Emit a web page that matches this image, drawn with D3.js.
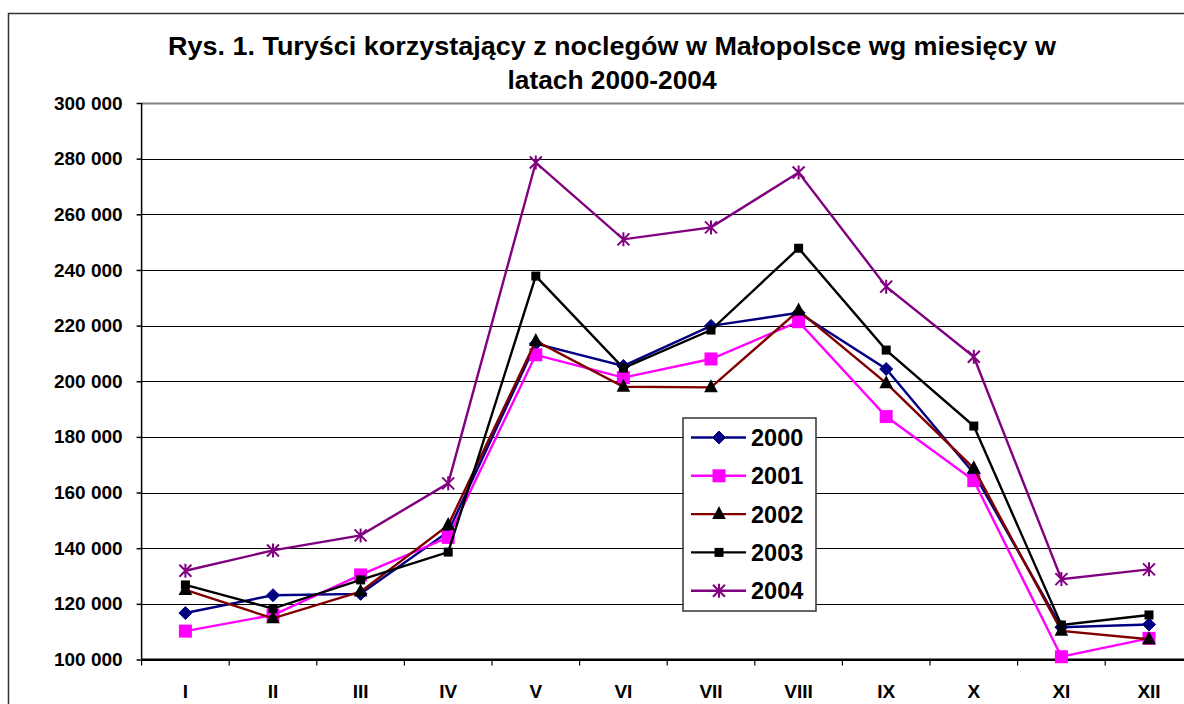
<!DOCTYPE html>
<html>
<head>
<meta charset="utf-8">
<script src="https://cdn.jsdelivr.net/npm/d3@7"></script>
<style>
  body { margin: 0; background: #fff; }
  text { font-family: "Liberation Sans", Arial, sans-serif; font-weight: bold; fill: #000; }
</style>
</head>
<body>
<script>
// Chart data
const months = ['I', 'II', 'III', 'IV', 'V', 'VI', 'VII', 'VIII', 'IX', 'X', 'XI', 'XII'];
const years = ['2000', '2001', '2002', '2003', '2004'];
const v2000 = [116700, 123100, 123600, 145900, 213500, 205500, 219900, 224600, 204400, 166900, 111600, 112600];
const v2001 = [110200, 116000, 130400, 143900, 209500, 201300, 208000, 221400, 187300, 164300, 101000, 107600];
const v2002 = [125000, 114800, 124400, 148300, 214500, 198000, 197800, 225400, 199300, 168700, 110300, 107300];
const v2003 = [126800, 118300, 128600, 138600, 237800, 204700, 218400, 247800, 211200, 183900, 112400, 116000];
const v2004 = [131900, 139200, 144600, 163300, 278600, 251000, 255300, 275000, 234000, 208800, 128900, 132400];
const yTicks = [100000, 120000, 140000, 160000, 180000, 200000, 220000, 240000, 260000, 280000, 300000];
const titleLines = ['Rys. 1. Turyści korzystający z noclegów w Małopolsce wg miesięcy w', 'latach 2000-2004'];

const series = [
  { name: years[0], values: v2000, color: '#000080', marker: 'diamond' },
  { name: years[1], values: v2001, color: '#ff00ff', marker: 'square' },
  { name: years[2], values: v2002, color: '#800000', marker: 'triangle' },
  { name: years[3], values: v2003, color: '#000000', marker: 'smallsquare' },
  { name: years[4], values: v2004, color: '#800080', marker: 'star' },
];

const W = 1184, H = 704;
const plot = { left: 141.6, right: 1192.8, top: 103, bottom: 659.5 };

const svg = d3.select('body').append('svg')
  .attr('width', W)
  .attr('height', H);

// outer chart border
svg.append('rect')
  .attr('x', 8.5).attr('y', 13.5)
  .attr('width', W + 20).attr('height', H + 20)
  .attr('fill', '#fff')
  .attr('stroke', '#333')
  .attr('stroke-width', 1.5);

// title (stretched a bit, the original font runs wider)
svg.append('g').selectAll('text')
  .data(titleLines)
  .join('text')
  .attr('x', 612)
  .attr('y', (d, i) => 55 + i * 33.5)
  .attr('text-anchor', 'middle')
  .attr('textLength', (d, i) => i === 0 ? 888 : 209)
  .attr('lengthAdjust', 'spacingAndGlyphs')
  .style('font-size', '25.5px')
  .text(d => d);

// scales
const x = d3.scalePoint().domain(months).range([plot.left, plot.right]).padding(0.5);
const xBand = d3.scaleBand().domain(months).range([plot.left, plot.right]);
const y = d3.scaleLinear().domain([100000, 300000]).range([plot.bottom, plot.top]);

const fmt = d3.formatLocale({ decimal: ',', thousands: ' ', grouping: [3], currency: ['', ''] }).format(',');

// gridlines
svg.append('g')
  .selectAll('line')
  .data(yTicks)
  .join('line')
  .attr('x1', plot.left).attr('x2', plot.right)
  .attr('y1', d => Math.round(y(d)) + 0.5).attr('y2', d => Math.round(y(d)) + 0.5)
  .attr('stroke', d => d === 300000 ? '#808080' : '#000')
  .attr('stroke-width', d => d === 300000 ? 2 : 1);

// y axis
const yAxis = d3.axisLeft(y).tickValues(yTicks).tickFormat(fmt).tickSize(5).tickPadding(14);
const gy = svg.append('g')
  .attr('transform', 'translate(' + plot.left + ',0)')
  .call(yAxis);
gy.selectAll('text').style('font-size', '19px').attr('font-family', null).attr('fill', '#000');
gy.selectAll('line, path').attr('stroke', '#000').attr('stroke-width', 1.5);
gy.select('.domain').attr('d', 'M0,' + plot.top + 'V' + plot.bottom);

// x axis (ticks between categories)
const gx = svg.append('g')
  .attr('transform', 'translate(0,' + plot.bottom + ')');
gx.append('line')
  .attr('x1', plot.left).attr('x2', plot.right)
  .attr('stroke', '#000').attr('stroke-width', 2);
gx.selectAll('.tick')
  .data(months)
  .join('line')
  .attr('class', 'tick')
  .attr('x1', d => xBand(d)).attr('x2', d => xBand(d))
  .attr('y1', 0).attr('y2', 6)
  .attr('stroke', '#000').attr('stroke-width', 1.2);
gx.selectAll('text')
  .data(months)
  .join('text')
  .attr('x', d => x(d))
  .attr('y', 38)
  .attr('text-anchor', 'middle')
  .style('font-size', '19px')
  .text(d => d);

// marker drawing
function drawMarker(sel, s) {
  if (s.marker === 'diamond') {
    sel.append('path').attr('d', 'M0,-6.5L6.5,0L0,6.5L-6.5,0Z').attr('fill', s.color).attr('stroke', s.color);
  } else if (s.marker === 'square') {
    sel.append('rect').attr('x', -6.5).attr('y', -6.5).attr('width', 13).attr('height', 13).attr('fill', s.color);
  } else if (s.marker === 'triangle') {
    sel.append('path').attr('d', 'M0,-8L6.8,5L-6.8,5Z').attr('fill', '#000');
  } else if (s.marker === 'smallsquare') {
    sel.append('rect').attr('x', -4.5).attr('y', -4.5).attr('width', 9).attr('height', 9).attr('fill', '#000');
  } else {
    sel.append('path').attr('d', 'M-6,-6L6,6M-6,6L6,-6M0,-7V7').attr('stroke', s.color).attr('stroke-width', 2).attr('fill', 'none');
  }
}

// series
const line = d3.line()
  .x((d, i) => x(months[i]))
  .y(d => y(d));

series.forEach(function(s) {
  const g = svg.append('g');
  g.append('path')
    .attr('d', line(s.values))
    .attr('fill', 'none')
    .attr('stroke', s.color)
    .attr('stroke-width', 2.4);
  g.selectAll('g.pt')
    .data(s.values)
    .join('g')
    .attr('class', 'pt')
    .attr('transform', (d, i) => 'translate(' + x(months[i]) + ',' + y(d) + ')')
    .each(function() { drawMarker(d3.select(this), s); });
});

// legend
const lg = svg.append('g').attr('transform', 'translate(683,418)');
lg.append('rect')
  .attr('width', 133).attr('height', 193)
  .attr('fill', '#fff')
  .attr('stroke', '#333').attr('stroke-width', 1.5);
series.forEach(function(s, i) {
  const row = lg.append('g').attr('transform', 'translate(0,' + (19.5 + i * 38.3) + ')');
  row.append('line')
    .attr('x1', 8).attr('x2', 63)
    .attr('stroke', s.color).attr('stroke-width', 2.4);
  drawMarker(row.append('g').attr('transform', 'translate(36,0)'), s);
  row.append('text')
    .attr('x', 68).attr('y', 8.5)
    .style('font-size', '23.5px')
    .text(s.name);
});
</script>
</body>
</html>
